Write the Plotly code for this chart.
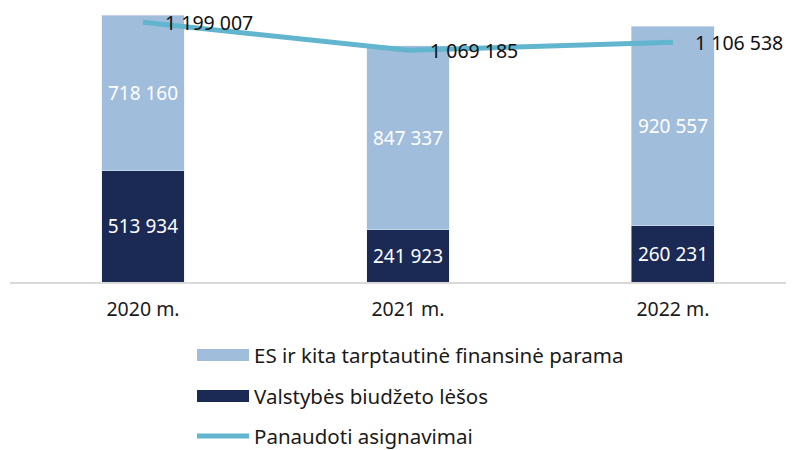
import plotly.graph_objects as go

categories = ["2020 m.", "2021 m.", "2022 m."]
valstybes = [513934, 241923, 260231]
es_parama = [718160, 847337, 920557]
panaudoti = [1199007, 1069185, 1106538]
series_names = ["ES ir kita tarptautinė finansinė parama",
                "Valstybės biudžeto lėšos",
                "Panaudoti asignavimai"]

C_LIGHT = "#A1BDDC"
C_DARK = "#1B2A55"
C_LINE = "#62B5CE"
FONT = "Noto Sans"

def fmt(v):
    return f"{v:,}".replace(",", " ")

W, H = 794, 450
OFF = 8  # page body margin
L, R, T, B = 2, 0, 0, 176
plot_h = H - T - B
plot_w = W - L - R

fig = go.Figure()
fig.add_trace(go.Bar(
    x=categories, y=valstybes, name=series_names[1], marker_color=C_DARK,
    width=0.313, text=[fmt(v) for v in valstybes], textposition="inside",
    insidetextanchor="middle", constraintext="none",
    textfont=dict(color="white", size=19, family=FONT), showlegend=False))
fig.add_trace(go.Bar(
    x=categories, y=es_parama, name=series_names[0], marker_color=C_LIGHT,
    width=0.313, text=[fmt(v) for v in es_parama], textposition="inside",
    insidetextanchor="middle", constraintext="none",
    textfont=dict(color="white", size=19, family=FONT), showlegend=False))
fig.add_trace(go.Scatter(
    x=categories, y=panaudoti, name=series_names[2], mode="lines",
    line=dict(color=C_LINE, width=5), showlegend=False))

annotations = []
for c, v in zip(categories, panaudoti):
    annotations.append(dict(x=c, y=v, xref="x", yref="y", text=fmt(v),
                            showarrow=False, xanchor="left", yanchor="middle",
                            xshift=20, font=dict(size=19.5, color="#111111", family=FONT)))

# manual legend: window pixel positions -> paper coords
def py(p):
    return (T + plot_h - (p - OFF)) / plot_h
def px(p):
    return (p - OFF - L) / plot_w

shapes = []
legend_rows = [(355, series_names[0], "bar", C_LIGHT),
               (396, series_names[1], "bar", C_DARK),
               (436, series_names[2], "line", C_LINE)]
for yc, name, kind, col in legend_rows:
    if kind == "bar":
        shapes.append(dict(type="rect", xref="paper", yref="paper",
                           x0=px(197), x1=px(249), y0=py(yc - 6), y1=py(yc + 6),
                           fillcolor=col, line=dict(width=0)))
    else:
        shapes.append(dict(type="line", xref="paper", yref="paper",
                           x0=px(197), x1=px(249), y0=py(yc), y1=py(yc),
                           line=dict(color=col, width=5)))
    annotations.append(dict(x=px(252), y=py(yc), xref="paper", yref="paper",
                            text=name, showarrow=False, xanchor="left", yanchor="middle",
                            font=dict(size=20.5, color="#1a1a1a", family=FONT)))

fig.update_layout(
    width=W, height=H, barmode="stack", bargap=0.69,
    margin=dict(l=L, r=R, t=T, b=B),
    plot_bgcolor="white", paper_bgcolor="white",
    font=dict(family=FONT, size=19.5, color="#1a1a1a"),
    xaxis=dict(range=[-0.502, 2.487], showline=True, linecolor="#D9D9D9", linewidth=2,
               ticks="", showgrid=False, ticklabelstandoff=9,
               tickfont=dict(size=19.5, color="#1a1a1a", family=FONT)),
    yaxis=dict(range=[0, 1264400], visible=False, showgrid=False, zeroline=False),
    shapes=shapes, annotations=annotations,
)

fig.write_html("out.html")
